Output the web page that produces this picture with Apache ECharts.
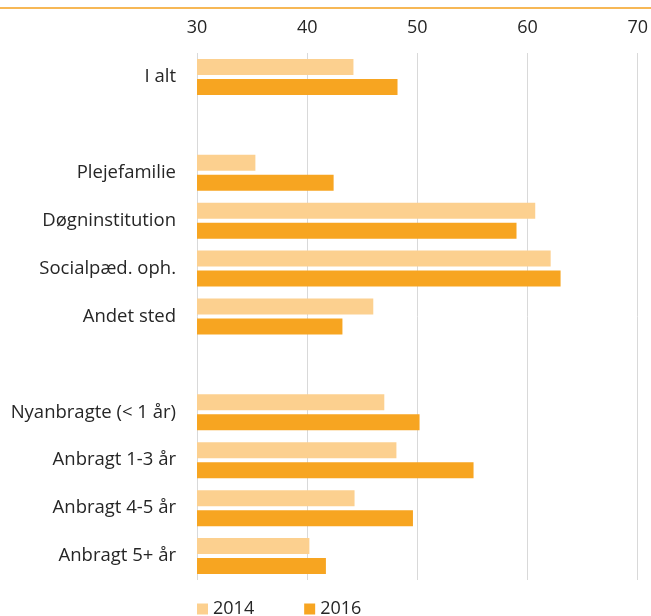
<!DOCTYPE html>
<html><head><meta charset="utf-8">
<script src="https://cdn.jsdelivr.net/npm/echarts@6/dist/echarts.min.js"></script>
<style>html,body{margin:0;padding:0;background:#fff}#c{width:651px;height:616px}</style>
</head><body>
<div id="c"></div>
<script>
const categories = ['I alt', ' ', 'Plejefamilie', 'Døgninstitution', 'Socialpæd. oph.', 'Andet sted', '  ', 'Nyanbragte (< 1 år)', 'Anbragt 1-3 år', 'Anbragt 4-5 år', 'Anbragt 5+ år'];
const values2014 = [44.2, null, 35.3, 60.7, 62.1, 46.0, null, 47.0, 48.1, 44.3, 40.2];
const values2016 = [48.2, null, 42.4, 59.0, 63.0, 43.2, null, 50.2, 55.1, 49.6, 41.7];
const xTicks = [30, 40, 50, 60, 70];

const chart = echarts.init(document.getElementById('c'), null, {renderer: 'canvas'});
const font = '"Open Sans", sans-serif';
chart.setOption({
  animation: false,
  backgroundColor: '#fff',
  graphic: [{
    type: 'line', shape: {x1: 0, y1: 8, x2: 651, y2: 8},
    style: {stroke: '#F5A01E', lineWidth: 1.5}
  }],
  grid: {left: 197, right: 13, top: 53, bottom: 36, containLabel: false},
  legend: {
    bottom: -7, left: 192,
    itemWidth: 11, itemHeight: 11, itemGap: 50,
    icon: 'rect',
    textStyle: {fontSize: 18, color: '#262626', fontFamily: font, padding: [0, 0, 0, 0]},
    data: ['2014', '2016']
  },
  xAxis: {
    type: 'value', position: 'top',
    min: xTicks[0], max: xTicks[xTicks.length - 1], interval: 10,
    axisLine: {show: false}, axisTick: {show: false},
    axisLabel: {fontSize: 18, color: '#262626', fontFamily: font, margin: 16},
    splitLine: {show: true, lineStyle: {color: '#d9d9d9', width: 1}}
  },
  yAxis: {
    type: 'category', inverse: true, data: categories,
    axisLine: {show: false}, axisTick: {show: false},
    axisLabel: {fontSize: 18.5, color: '#262626', fontFamily: font, margin: 21}
  },
  series: [
    {name: '2014', type: 'bar', data: values2014, barWidth: 16, barGap: '25%',
     itemStyle: {color: '#FCD08F'}},
    {name: '2016', type: 'bar', data: values2016, barWidth: 16, barGap: '25%',
     itemStyle: {color: '#F7A521'}}
  ]
});
</script>
</body></html>
